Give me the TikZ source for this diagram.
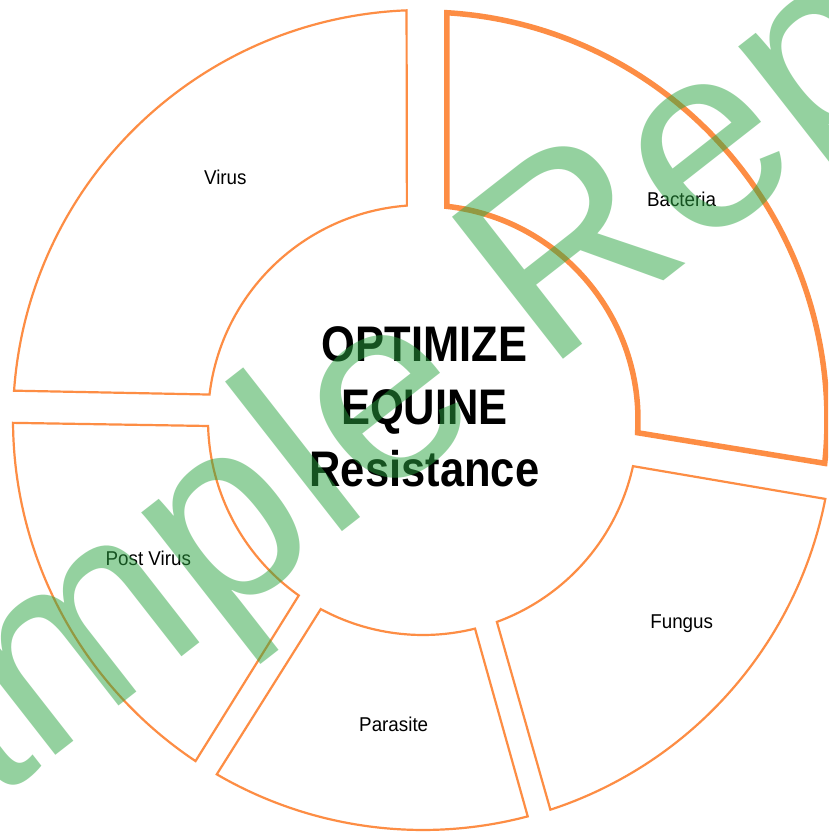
\documentclass[tikz,border=0pt]{standalone}
\usepackage{fontspec}
\setmainfont{Liberation Sans}
\newfontfamily\titlefont[FakeStretch=0.87]{Liberation Sans}
\newfontfamily\labelfont[FakeStretch=0.94]{Liberation Sans}
\definecolor{segorange}{RGB}{253,141,68}
\definecolor{wmgreen}{RGB}{43,165,65}
\tikzset{
  seg/.style={draw=segorange, line width=2.2pt, fill=white},
  segbold/.style={draw=segorange, line width=5.5pt, fill=white},
  lbl/.style={font=\labelfont\fontsize{20}{24}\selectfont, anchor=base, inner sep=0pt, text=black},
  ttl/.style={font=\titlefont\bfseries\fontsize{50}{60}\selectfont, anchor=base, inner sep=0pt, text=black},
  wm/.style={font=\fontsize{262}{262}\selectfont, anchor=base, inner sep=0pt, text=wmgreen, text opacity=0.5, rotate=38}
}
\begin{document}
\begin{tikzpicture}[x=1pt,y=1pt]
\useasboundingbox (0,0) rectangle (828,832);
\clip (0,0) rectangle (828,832);
\fill[white] (0,0) rectangle (828,832);
\coordinate (C) at (423,412);
\begin{scope}[shift={(C)}]
  % Virus
  \draw[seg] (92.3:410) arc[start angle=92.3,end angle=175.9,radius=410]
     -- (173.2:215) arc[start angle=173.2,end angle=94.3,radius=215] -- cycle;
  % Post Virus
  \draw[seg] (180.4:410) arc[start angle=180.4,end angle=236.3,radius=410]
     -- (234.7:215) arc[start angle=234.7,end angle=181.6,radius=215] -- cycle;
  % Parasite
  \draw[seg] (239.8:410) arc[start angle=239.8,end angle=284.8,radius=410]
     -- (284.0:215) arc[start angle=284.0,end angle=241.6,radius=215] -- cycle;
  % Fungus
  \draw[seg] (288.1:410) arc[start angle=288.1,end angle=348.9,radius=410]
     -- (347.6:215) arc[start angle=347.6,end angle=290.1,radius=215] -- cycle;
  % Bacteria (highlighted)
  \draw[segbold] (86.6:404 and 408) arc[start angle=86.6,end angle=-6.1,x radius=404,y radius=408]
     -- (-3.4:215) arc[start angle=-3.4,end angle=83.6,radius=215] -- cycle;
\end{scope}

\node[ttl] (t1) at (424.4,470) {OPTIMIZE};
\node[ttl] (t2) at (424.4,407.5) {EQUINE};
\node[ttl] (t3) at (424.4,345) {Resistance};

\node[lbl] (virus) at (225.3,647) {Virus};
\node[lbl] (bacteria) at (681.5,625.6) {Bacteria};
\node[lbl] (postvirus) at (148.3,266) {Post Virus};
\node[lbl] (parasite) at (393.7,100.3) {Parasite};
\node[lbl] (fungus) at (681.7,203.7) {Fungus};

\node[wm] (watermark) at (478,406) {Sample Report};
\end{tikzpicture}
\end{document}
